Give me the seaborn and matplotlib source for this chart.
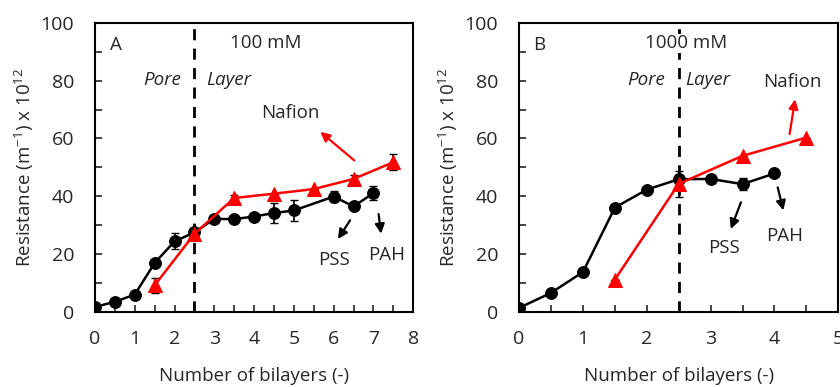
import matplotlib
matplotlib.use('Agg')
import matplotlib.pyplot as plt
from matplotlib.ticker import MultipleLocator
import seaborn as sns
import pandas as pd
import numpy as np

# Panel A: 100 mM
a_pss_x = [0, 0.5, 1, 1.5, 2, 2.5, 3, 3.5, 4, 4.5, 5, 6, 6.5, 7]
a_pss_y = [1.7, 3.5, 6.0, 16.9, 24.4, 27.5, 32.2, 32.1, 33.0, 34.2, 35.1, 39.9, 36.5, 41.1]
a_pss_err = [0, 0, 0, 0, 2.8, 0, 0, 0, 0, 3.5, 3.5, 2.0, 0, 2.5]
a_naf_x = [1.5, 2.5, 3.5, 4.5, 5.5, 6.5, 7.5]
a_naf_y = [9.2, 27.0, 39.4, 40.9, 42.5, 46.0, 51.8]
a_naf_err = [2.5, 0, 1.0, 0, 0, 1.5, 2.8]

# Panel B: 1000 mM
b_pss_x = [0, 0.5, 1, 1.5, 2, 2.5, 3, 3.5, 4]
b_pss_y = [1.4, 6.6, 13.8, 36.1, 42.3, 45.9, 46.0, 44.2, 47.9]
b_pss_err = [0, 0, 0, 0, 0, 0, 0, 2.0, 0]
b_naf_x = [1.5, 2.5, 3.5, 4.5]
b_naf_y = [11.2, 44.3, 54.0, 60.3]
b_naf_err = [0, 4.6, 0, 0]

sns.set_style('ticks')
plt.rcParams['font.family'] = ['Open Sans', 'DejaVu Sans']
plt.rcParams['mathtext.default'] = 'regular'

fig = plt.figure(figsize=(8.4, 3.87), dpi=100)
ax_a = fig.add_axes([0.113, 0.194, 0.379, 0.747])
ax_b = fig.add_axes([0.618, 0.194, 0.380, 0.747])


def draw_panel(ax, px, py, perr, nx, ny, nerr, xmax):
    ax.errorbar(px, py, yerr=perr, fmt='none', ecolor='black', elinewidth=1.2, capsize=3, zorder=2)
    ax.errorbar(nx, ny, yerr=nerr, fmt='none', ecolor='black', elinewidth=1.2, capsize=3, zorder=2)
    sns.lineplot(x=px, y=py, ax=ax, color='black', marker='o', markersize=8.5,
                 markeredgecolor='black', linewidth=1.8, zorder=3)
    sns.lineplot(x=nx, y=ny, ax=ax, color='#ff0000', marker='^', markersize=10.5,
                 markeredgecolor='#ff0000', linewidth=1.8, zorder=4)
    ax.axvline(2.5, color='black', linestyle=(0, (4, 3)), linewidth=2, zorder=1)
    ax.set_xlim(0, xmax)
    ax.set_ylim(0, 100)
    ax.xaxis.set_major_locator(MultipleLocator(1))
    ax.xaxis.set_minor_locator(MultipleLocator(0.5))
    ax.yaxis.set_major_locator(MultipleLocator(20))
    ax.yaxis.set_minor_locator(MultipleLocator(10))
    ax.tick_params(which='both', direction='in', length=5, width=1.2, labelsize=14)
    ax.tick_params(axis='x', which='both', pad=13)
    ax.tick_params(axis='y', which='both', pad=15)
    for s in ax.spines.values():
        s.set_linewidth(1.5)
        s.set_color('black')
    ax.set_xlabel('Number of bilayers (-)', fontsize=13.5, labelpad=14)
    ax.set_ylabel('Resistance (m$^{-1}$) x 10$^{12}$', fontsize=13.5, labelpad=3)


draw_panel(ax_a, a_pss_x, a_pss_y, a_pss_err, a_naf_x, a_naf_y, a_naf_err, 8)
draw_panel(ax_b, b_pss_x, b_pss_y, b_pss_err, b_naf_x, b_naf_y, b_naf_err, 5)

fs = 13.5
arrow_k = dict(arrowstyle='-|>', mutation_scale=14, linewidth=1.6)

# annotations panel A
ax_a.text(0.52, 92.5, 'A', fontsize=fs, ha='center', va='center')
ax_a.text(4.29, 92.9, '100 mM', fontsize=fs, ha='center', va='center')
ax_a.text(1.69, 80.2, 'Pore', fontsize=fs, ha='center', va='center', style='italic')
ax_a.text(3.37, 80.2, 'Layer', fontsize=fs, ha='center', va='center', style='italic')
ax_a.text(4.9, 68.7, 'Nafion', fontsize=fs, ha='center', va='center')
ax_a.text(6.01, 18.1, 'PSS', fontsize=fs, ha='center', va='center')
ax_a.text(7.33, 19.8, 'PAH', fontsize=fs, ha='center', va='center')
ax_a.annotate('', xy=(5.61, 62.9), xytext=(6.57, 51.8), arrowprops=dict(color='#ff0000', **arrow_k))
ax_a.annotate('', xy=(6.07, 24.4), xytext=(6.45, 32.5), arrowprops=dict(color='black', **arrow_k))
ax_a.annotate('', xy=(7.2, 26.1), xytext=(7.12, 34.8), arrowprops=dict(color='black', **arrow_k))

# annotations panel B
ax_b.text(0.32, 92.5, 'B', fontsize=fs, ha='center', va='center')
ax_b.text(2.62, 92.9, '1000 mM', fontsize=fs, ha='center', va='center',
          bbox=dict(facecolor='white', edgecolor='none', pad=0.5))
ax_b.text(1.99, 80.2, 'Pore', fontsize=fs, ha='center', va='center', style='italic')
ax_b.text(2.96, 80.2, 'Layer', fontsize=fs, ha='center', va='center', style='italic')
ax_b.text(4.28, 79.4, 'Nafion', fontsize=fs, ha='center', va='center')
ax_b.text(3.21, 22.1, 'PSS', fontsize=fs, ha='center', va='center')
ax_b.text(4.16, 26.1, 'PAH', fontsize=fs, ha='center', va='center')
ax_b.annotate('', xy=(4.33, 74.5), xytext=(4.23, 60.6), arrowprops=dict(color='#ff0000', **arrow_k))
ax_b.annotate('', xy=(3.30, 27.8), xytext=(3.49, 38.8), arrowprops=dict(color='black', **arrow_k))
ax_b.annotate('', xy=(4.15, 34.2), xytext=(4.04, 44.0), arrowprops=dict(color='black', **arrow_k))

fig.savefig('out.png', dpi=100)
